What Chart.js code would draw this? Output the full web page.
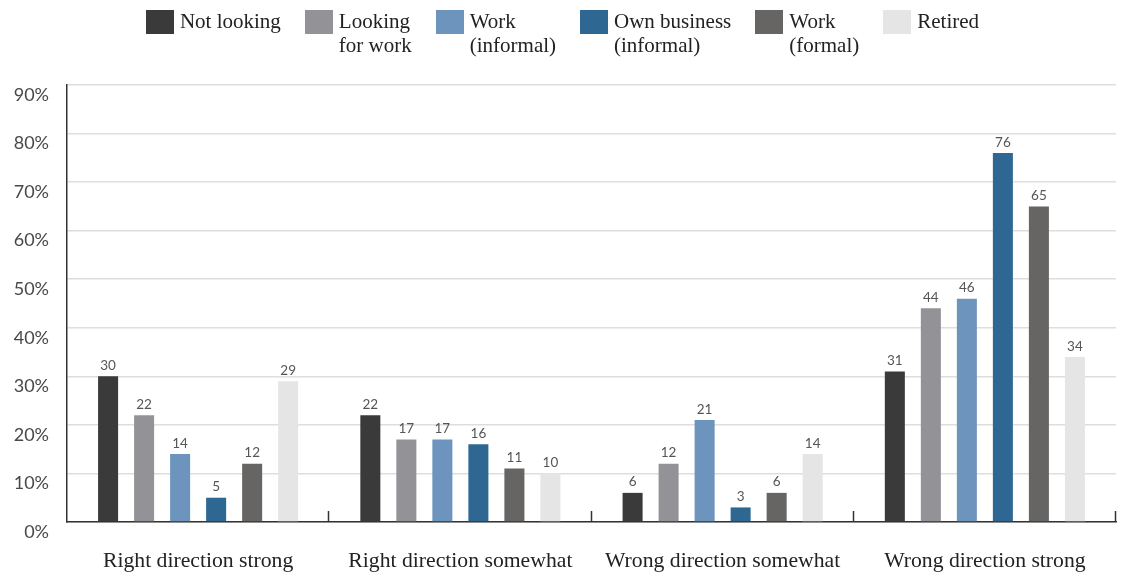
<!DOCTYPE html>
<html>
<head>
<meta charset="utf-8">
<script src="https://cdn.jsdelivr.net/npm/chart.js@4.4.1/dist/chart.umd.min.js"></script>
<style>
  body { margin: 0; background: #fff; }
  #wrap { position: relative; width: 1125px; height: 576px; }
  #chart { position: absolute; left: 0; top: 0; }
  #legend {
    position: absolute; left: 0; top: 9px; width: 1125px;
    display: flex; justify-content: center; gap: 24px;
    font-family: "Liberation Serif", serif; font-size: 21px; line-height: 24px; color: #222;
  }
  .item { display: flex; align-items: flex-start; }
  .box { width: 28px; height: 24px; margin-top: 1px; margin-right: 6px; }
</style>
</head>
<body>
<div id="wrap">
  <canvas id="chart" width="1125" height="576"></canvas>
  <div id="legend"></div>
</div>
<script>
// categories + series (percent)
const categories = ['Right direction strong', 'Right direction somewhat', 'Wrong direction somewhat', 'Wrong direction strong'];
const seriesNames = [['Not looking'], ['Looking', 'for work'], ['Work', '(informal)'], ['Own business', '(informal)'], ['Work', '(formal)'], ['Retired']];
const seriesColors = ['#3a3a3a', '#939297', '#6d94bd', '#2e6892', '#666563', '#e5e5e5'];
const notLooking   = [30, 22, 6, 31];
const lookingWork  = [22, 17, 12, 44];
const workInformal = [14, 17, 21, 46];
const ownBusiness  = [5, 16, 3, 76];
const workFormal   = [12, 11, 6, 65];
const retired      = [29, 10, 14, 34];
const yTicks = [0, 10, 20, 30, 40, 50, 60, 70, 80, 90];

const allSeries = [notLooking, lookingWork, workInformal, ownBusiness, workFormal, retired];

// html legend (labels wrap on two lines)
const legendEl = document.getElementById('legend');
seriesNames.forEach((lines, i) => {
    const item = document.createElement('div');
    item.className = 'item';
    const box = document.createElement('div');
    box.className = 'box';
    box.style.background = seriesColors[i];
    const txt = document.createElement('div');
    txt.innerHTML = lines.join('<br>');
    item.appendChild(box);
    item.appendChild(txt);
    legendEl.appendChild(item);
});

// value labels above bars
const valueLabels = {
    id: 'valueLabels',
    afterDatasetsDraw(chart) {
        const ctx = chart.ctx;
        ctx.save();
        ctx.font = '13.5px Lato, sans-serif';
        ctx.fillStyle = '#555';
        ctx.textAlign = 'center';
        ctx.textBaseline = 'bottom';
        chart.data.datasets.forEach((ds, i) => {
            chart.getDatasetMeta(i).data.forEach((bar, j) => {
                ctx.fillText(ds.data[j], bar.x, bar.y - 4);
            });
        });
        ctx.restore();
    }
};

// small tick marks between category groups
const groupTicks = {
    id: 'groupTicks',
    afterDraw(chart) {
        const x = chart.scales.x;
        const ctx = chart.ctx;
        const step = (x.right - x.left) / categories.length;
        ctx.save();
        ctx.strokeStyle = '#333';
        ctx.lineWidth = 1.5;
        for (let i = 1; i <= categories.length; i++) {
            const px = Math.round(x.left + i * step) - 0.5;
            ctx.beginPath();
            ctx.moveTo(px, x.top);
            ctx.lineTo(px, x.top - 11);
            ctx.stroke();
        }
        ctx.restore();
    }
};

new Chart(document.getElementById('chart'), {
    type: 'bar',
    data: {
        labels: categories,
        datasets: allSeries.map((data, i) => ({
            label: seriesNames[i].join(' '),
            data: data,
            backgroundColor: seriesColors[i],
            categoryPercentage: 0.824,
            barPercentage: 0.556
        }))
    },
    options: {
        responsive: false,
        devicePixelRatio: 1,
        animation: false,
        layout: { padding: { top: 85, right: 9, left: 0, bottom: 0 } },
        plugins: {
            legend: { display: false },
            tooltip: { enabled: false }
        },
        scales: {
            x: {
                grid: { display: false },
                border: { color: '#333', width: 1.5 },
                ticks: {
                    color: '#222',
                    font: { family: 'Liberation Serif', size: 21.7 },
                    padding: 18
                },
                afterFit: s => { s.height = 54; }
            },
            y: {
                min: 0,
                max: 90,
                afterBuildTicks: s => { s.ticks = yTicks.map(v => ({ value: v })); },
                grid: { color: '#dedede', lineWidth: 1.5, drawTicks: false },
                border: { color: '#333', width: 1.5 },
                ticks: {
                    color: '#484848',
                    font: { family: 'Lato', size: 18 },
                    padding: 18,
                    labelOffset: 10,
                    callback: v => v + '%'
                },
                afterFit: s => { s.width = 67; }
            }
        }
    },
    plugins: [valueLabels, groupTicks]
});
</script>
</body>
</html>
